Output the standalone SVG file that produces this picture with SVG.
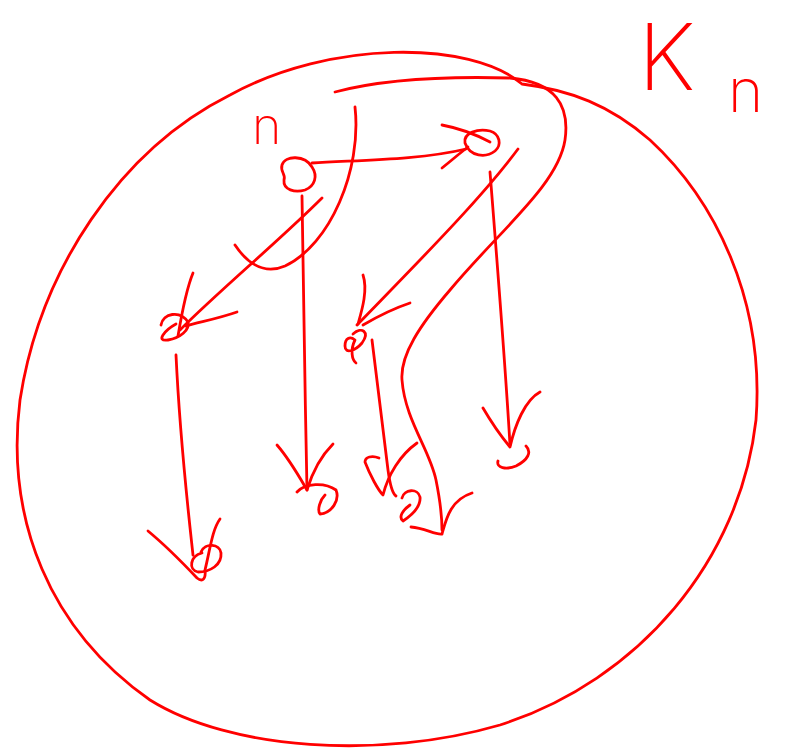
<svg xmlns="http://www.w3.org/2000/svg" width="790" height="754" viewBox="0 0 790 754">
<style>
.s{fill:none;stroke:#ff0000;stroke-width:2.8;stroke-linecap:round;stroke-linejoin:round}
.t{fill:#ff0000;font-family:Inter,"Liberation Sans",sans-serif;font-weight:200}
</style>
<rect width="790" height="754" fill="#ffffff"/>
<g id="boundary">
<path class="s" d="M522,84 C470,40 330,40 230,95 C120,150 40,270 20,400 C5,520 50,630 150,700 C230,750 380,760 500,725 C640,680 740,560 756,420 C765,300 715,200 650,140 C610,105 570,90 522,84"/>
</g>
<g id="label-Kn">
<text class="t" x="638" y="90" font-size="92">K</text>
<text class="t" x="728" y="112" font-size="60">n</text>
</g>
<g id="node-n">
<path class="s" d="M312,167 C305,155 285,155 282,165 C280,172 286,174 284,180 C283,190 295,193 305,190 C315,186 318,176 312,167"/>
<text class="t" x="252" y="144" font-size="50">n</text>
</g>
<g id="node-r">
<path class="s" d="M465,143 C463,133 478,128 490,131 C500,134 502,145 495,151 C486,158 470,157 465,143"/>
</g>
<g id="node-a">
<path class="s" d="M161,325 C163,313 180,310 188,322 C190,330 180,338 168,340 C155,342 165,330 176,324"/>
</g>
<g id="node-b">
<path class="s" d="M353,334 C362,326 370,332 362,343 C356,350 345,355 345,346 C345,338 350,336 355,340 C350,350 352,360 356,363"/>
</g>
<g id="node-a1">
<path class="s" d="M201,552 C205,542 220,544 221,553 C222,565 210,572 198,572 C188,570 190,556 202,553"/>
</g>
<g id="node-a2">
<path class="s" d="M297,492 C305,483 325,482 336,490 C340,500 332,513 320,514 C317,510 320,500 325,495"/>
</g>
<g id="node-b1">
<path class="s" d="M402,498 C404,489 418,488 420,497 C421,506 412,515 403,521 C398,517 403,510 410,505"/>
</g>
<g id="node-b2">
<path class="s" d="M526,446 C532,452 528,460 516,466 C506,470 496,468 498,461"/>
</g>
<g id="node-c">
<path class="s" d="M411,527 C425,528 435,535 442,534 C446,520 450,500 472,493"/>
</g>
<g id="connectors">
<path class="s" d="M312,163 C360,160 420,160 466,149"/>
<path class="s" d="M442,125 C458,128 475,134 490,142"/>
<path class="s" d="M442,168 C452,160 460,153 468,147"/>
<path class="s" d="M355,107 C362,170 330,245 285,266 C262,276 245,260 235,245"/>
<path class="s" d="M322,198 C280,240 220,290 180,330"/>
<path class="s" d="M193,273 C186,290 182,312 178,336"/>
<path class="s" d="M237,312 C220,318 200,322 186,326"/>
<path class="s" d="M176,355 C180,440 187,500 193,555"/>
<path class="s" d="M148,531 C165,545 180,560 197,578 C203,583 206,578 205,570 C210,550 212,530 220,519"/>
<path class="s" d="M302,196 C303,280 305,390 307,490"/>
<path class="s" d="M277,445 C290,460 300,478 307,490 C313,470 322,455 333,444"/>
<path class="s" d="M518,149 C480,200 420,260 357,325"/>
<path class="s" d="M363,275 C368,290 362,310 358,324"/>
<path class="s" d="M410,303 C395,308 375,318 363,325"/>
<path class="s" d="M372,340 C378,390 384,440 388,470 C390,485 393,494 396,496"/>
<path class="s" d="M379,458 C372,455 365,457 365,462 C370,475 378,490 383,495 C388,475 400,455 417,443"/>
<path class="s" d="M490,172 C497,260 505,360 510,445"/>
<path class="s" d="M483,408 C490,420 500,435 510,447 C515,425 525,400 540,392"/>
<path class="s" d="M335,92 C380,80 440,76 510,78 C555,82 570,105 565,140 C558,185 500,230 450,290 C420,325 400,355 402,380 C405,420 430,450 436,480 C440,500 442,515 442,530"/>
</g>
</svg>
